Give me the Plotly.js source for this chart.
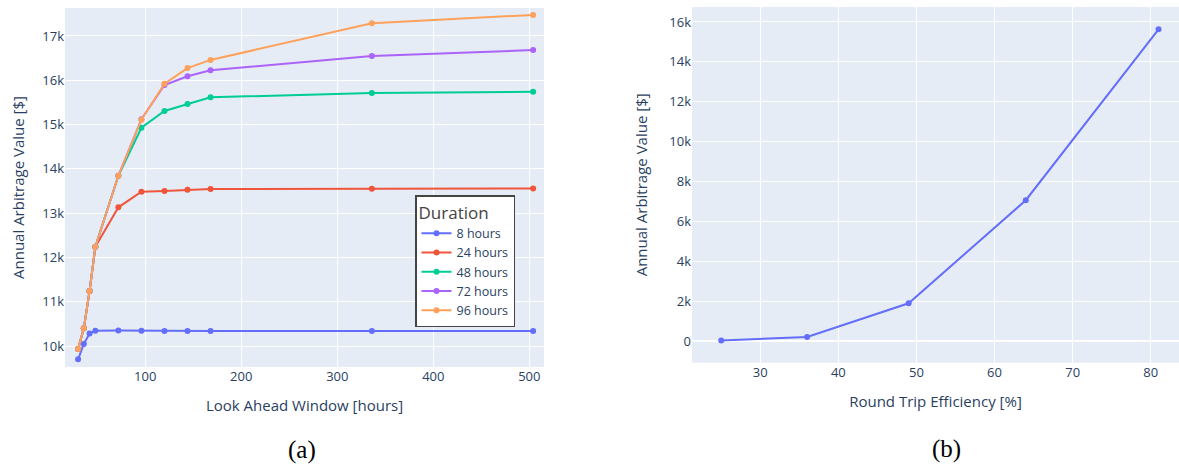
<!DOCTYPE html>
<html>
<head>
<meta charset="utf-8">
<script src="https://cdn.plot.ly/plotly-3.0.1.min.js"></script>
<style>html,body{margin:0;padding:0;background:#fff;overflow:hidden}#chart{width:1179px;height:464px}</style>
</head>
<body>
<div id="chart"></div>
<script>
// Panel (a): look-ahead window vs annual arbitrage value
const lookAhead = [30, 36, 42, 48, 72, 96, 120, 144, 168, 336, 504];
const seriesNames = ["8 hours", "24 hours", "48 hours", "72 hours", "96 hours"];
const val8h  = [9700, 10045, 10280, 10345, 10350, 10345, 10340, 10340, 10340, 10340, 10340];
const val24h = [9930, 10400, 11242, 12242, 13132, 13484, 13500, 13530, 13545, 13551, 13555];
const val48h = [9930, 10400, 11242, 12242, 13845, 14929, 15306, 15464, 15615, 15712, 15742];
const val72h = [9930, 10400, 11242, 12242, 13845, 15120, 15893, 16090, 16225, 16548, 16683];
const val96h = [9930, 10400, 11242, 12242, 13845, 15110, 15923, 16275, 16460, 17286, 17476];

// Panel (b): round trip efficiency vs annual arbitrage value
const efficiency = [25, 36, 49, 64, 81];
const effValue = [30, 200, 1890, 7060, 15630];

const colors = ["#636efa", "#EF553B", "#00cc96", "#ab63fa", "#FFA15A"];
const allSeries = [val8h, val24h, val48h, val72h, val96h];

const W = 1179, H = 464;
const traces = allSeries.map((ys, i) => ({
  x: lookAhead, y: ys, name: seriesNames[i], type: "scatter", mode: "lines+markers",
  line: {color: colors[i], width: 2}, marker: {color: colors[i], size: 6},
  xaxis: "x", yaxis: "y"
}));
traces.push({
  x: efficiency, y: effValue, type: "scatter", mode: "lines+markers", showlegend: false,
  line: {color: colors[0], width: 2}, marker: {color: colors[0], size: 6},
  xaxis: "x2", yaxis: "y2"
});

const fontColor = "#2a3f5f";
const axisCommon = {
  showgrid: true, gridcolor: "white", gridwidth: 1, zeroline: true, zerolinecolor: "white",
  zerolinewidth: 2, tickfont: {size: 13, color: fontColor}, ticks: "", showline: false,
  automargin: false
};

const layout = {
  width: W, height: H,
  margin: {l: 0, r: 0, t: 0, b: 0},
  paper_bgcolor: "white", plot_bgcolor: "#E5ECF6",
  font: {family: "Open Sans, sans-serif", color: fontColor, size: 12},
  showlegend: true,
  legend: {
    x: 415 / W, y: 1 - 195 / H, xanchor: "left", yanchor: "top",
    bgcolor: "white", bordercolor: "#444", borderwidth: 1.5,
    title: {text: "Duration", font: {size: 17, color: "#444"}},
    font: {size: 12.5, color: fontColor}
  },
  xaxis: Object.assign({}, axisCommon, {
    domain: [65 / W, 544 / W], range: [16.4, 515.3], anchor: "y",
    title: {text: "Look Ahead Window [hours]", font: {size: 15, color: fontColor}, standoff: 16}
  }),
  yaxis: Object.assign({}, axisCommon, {
    domain: [1 - 367 / H, 1 - 8 / H], range: [9526, 17632], anchor: "x", dtick: 1000,
    title: {text: "Annual Arbitrage Value [$]", font: {size: 15, color: fontColor}, standoff: 14}
  }),
  xaxis2: Object.assign({}, axisCommon, {
    domain: [692 / W, 1], range: [21.26, 83.62], anchor: "y2", dtick: 10,
    title: {text: "Round Trip Efficiency [%]", font: {size: 15, color: fontColor}, standoff: 16}
  }),
  yaxis2: Object.assign({}, axisCommon, {
    domain: [1 - 362.7 / H, 1 - 7 / H], range: [-1088, 16750], anchor: "x2", dtick: 2000,
    title: {text: "Annual Arbitrage Value [$]", font: {size: 15, color: fontColor}, standoff: 18}
  }),
  annotations: [
    {text: "(a)", xref: "paper", yref: "paper", x: 302 / W, y: 1 - 450 / H, xanchor: "center", yanchor: "middle",
     showarrow: false, font: {family: "Liberation Serif, Times New Roman, serif", size: 25, color: "black"}},
    {text: "(b)", xref: "paper", yref: "paper", x: 946 / W, y: 1 - 449 / H, xanchor: "center", yanchor: "middle",
     showarrow: false, font: {family: "Liberation Serif, Times New Roman, serif", size: 25, color: "black"}}
  ]
};

Plotly.newPlot("chart", traces, layout, {displayModeBar: false, staticPlot: true});
</script>
</body>
</html>
